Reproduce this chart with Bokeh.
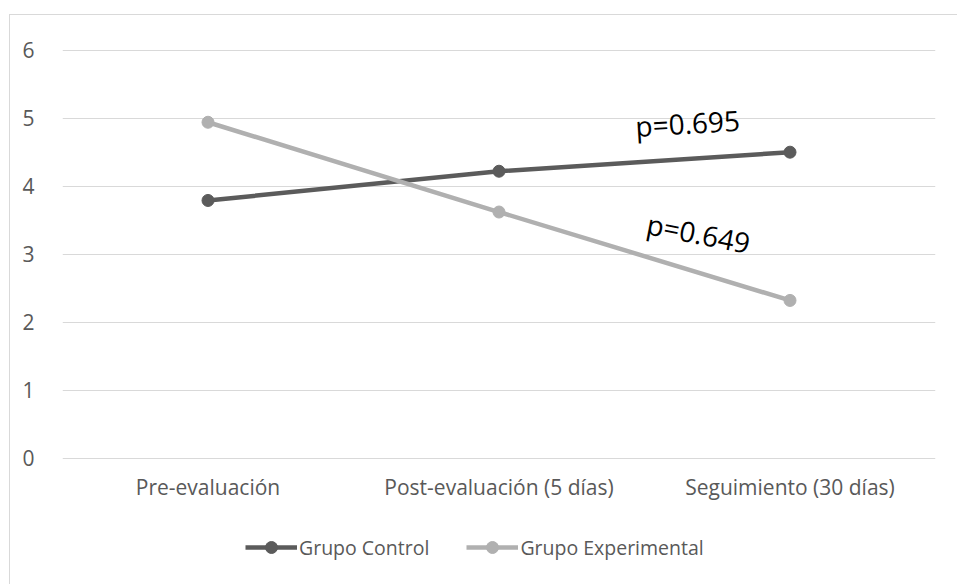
from bokeh.plotting import figure
from bokeh.models import Legend, LegendItem, Label, LabelSet, Range1d, FactorRange, ColumnDataSource, FixedTicker
from bokeh.core.properties import value
from bokeh.embed import file_html
from bokeh.resources import INLINE

categories = ["Pre-evaluación", "Post-evaluación (5 días)", "Seguimiento (30 días)"]
control = [3.79, 4.22, 4.50]
experimental = [4.94, 3.62, 2.32]
series_names = ["Grupo Control", "Grupo Experimental"]
y_ticks = [0, 1, 2, 3, 4, 5, 6]
p_texts = ["p=0.695", "p=0.649"]

FONT = "Open Sans"
TXT = "#595959"
GRID = "#D9D9D9"
C_CTRL = "#5B5B5B"
C_EXP = "#B0B0B0"

CAT_LABEL_Y = -0.43  # offset below the 0 line where category labels sit
src = ColumnDataSource(data=dict(cat=categories, control=control, experimental=experimental,
                                 lab_y=[CAT_LABEL_Y] * len(categories)))

p = figure(x_range=FactorRange(*categories), y_range=Range1d(-1.872, 6.01),
           width=948, height=570, output_backend="svg", toolbar_location=None,
           min_border_left=52, min_border_right=23, min_border_top=34, min_border_bottom=0)
p.margin = (14, 0, 0, 9)
p.styles = {"border-top": "1px solid #D9D9D9", "border-left": "1px solid #D9D9D9"}
p.outline_line_color = None
p.background_fill_color = "white"
p.border_fill_color = "white"

p.xgrid.grid_line_color = None
p.ygrid.grid_line_color = GRID
p.ygrid.grid_line_width = 1
p.yaxis.ticker = FixedTicker(ticks=y_ticks)
p.xaxis.visible = False

p.yaxis.axis_line_color = None
p.yaxis.major_tick_line_color = None
p.yaxis.minor_tick_line_color = None
p.yaxis.major_label_text_font = FONT
p.yaxis.major_label_text_font_size = "21px"
p.yaxis.major_label_text_color = TXT
p.yaxis.major_label_standoff = 22

p.add_layout(LabelSet(x="cat", y="lab_y", text="cat", source=src, text_align="center",
                      text_baseline="middle", text_font=value(FONT), text_font_size=value("21px"),
                      text_color=TXT))

l1 = p.line("cat", "control", source=src, line_color=C_CTRL, line_width=4.5)
c1 = p.scatter("cat", "control", source=src, size=12, fill_color=C_CTRL, line_color=C_CTRL)
l2 = p.line("cat", "experimental", source=src, line_color=C_EXP, line_width=4.5)
c2 = p.scatter("cat", "experimental", source=src, size=12, fill_color=C_EXP, line_color=C_EXP)

legend = Legend(items=[LegendItem(label=series_names[0], renderers=[l1, c1]),
                       LegendItem(label=series_names[1], renderers=[l2, c2])],
                orientation="horizontal", location=(183, 23))
legend.glyph_width = 52
legend.glyph_height = 30
legend.label_standoff = 2
legend.spacing = 37
legend.padding = 0
legend.margin = 0
legend.label_text_font = FONT
legend.label_text_font_size = "19.5px"
legend.label_text_color = TXT
legend.border_line_color = None
legend.background_fill_alpha = 0
p.add_layout(legend)

p.add_layout(Label(x=2.148, y=4.93, text=p_texts[0], angle=3.5, angle_units="deg",
                   text_align="center", text_baseline="middle", text_font=FONT,
                   text_font_size="28px", text_color="black"))
p.add_layout(Label(x=2.186, y=3.31, text=p_texts[1], angle=-11, angle_units="deg",
                   text_align="center", text_baseline="middle", text_font=FONT,
                   text_font_size="28px", text_color="black"))

open("out.html", "w").write(file_html(p, INLINE))
